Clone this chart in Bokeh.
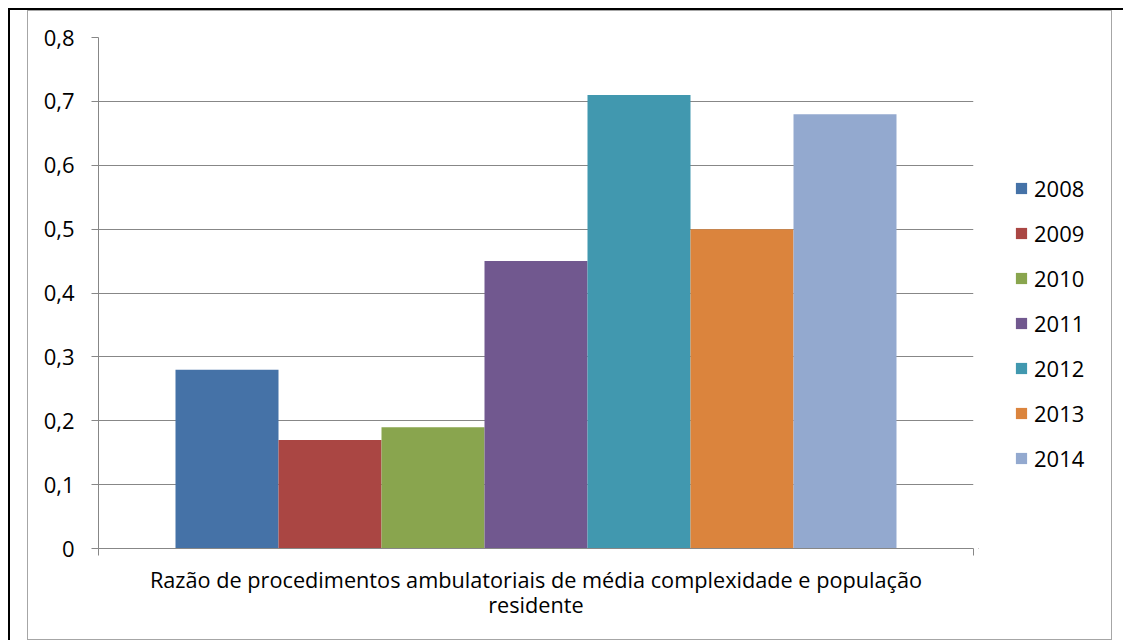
from bokeh.plotting import figure
from bokeh.models import (Range1d, FixedTicker, CustomJSTickFormatter, Legend, LegendItem,
                          ColumnDataSource)
from bokeh.layouts import column, row
from bokeh.embed import file_html
from bokeh.resources import INLINE

years = ["2008", "2009", "2010", "2011", "2012", "2013", "2014"]
values = [0.28, 0.17, 0.19, 0.45, 0.71, 0.50, 0.68]
colors = ["#4572A7", "#AA4643", "#89A54E", "#71588F", "#4198AF", "#DB843D", "#93A9CF"]
category_label = "Razão de procedimentos ambulatoriais de média complexidade e população\nresidente"
y_ticks = [0, 0.1, 0.2, 0.3, 0.4, 0.5, 0.6, 0.7, 0.8]

FONT = "Open Sans"
GRID = "#878787"
bar_w = 0.824 / len(years)
n = len(years)
xs = [0.5 + (i - (n - 1) / 2) * bar_w for i in range(n)]
src = ColumnDataSource(dict(x=xs, top=values, year=years, color=colors))

# ---- main chart ----
p = figure(width=950, height=628, x_range=Range1d(0, 1), y_range=Range1d(0, 0.8),
           output_backend="svg", toolbar_location=None,
           min_border_left=70, min_border_top=26, min_border_right=5, min_border_bottom=91)
p.outline_line_color = None
p.background_fill_color = "white"
p.border_fill_color = "white"

r = p.vbar(x="x", top="top", width=bar_w, bottom=0, source=src,
           fill_color="color", line_color=None)

p.yaxis.ticker = FixedTicker(ticks=y_ticks)
p.yaxis.formatter = CustomJSTickFormatter(code='return tick == 0 ? "0" : tick.toFixed(1).replace(".", ",");')
p.yaxis.major_label_text_font = FONT
p.yaxis.major_label_text_font_size = "22px"
p.yaxis.major_label_text_color = "black"
p.yaxis.major_tick_out = 7
p.yaxis.major_tick_in = 0
p.yaxis.minor_tick_line_color = None
p.yaxis.axis_line_color = GRID
p.yaxis.major_tick_line_color = GRID
p.yaxis.major_label_standoff = 17

p.xaxis.ticker = FixedTicker(ticks=[0, 1])
p.xaxis.major_label_text_font_size = "1px"
p.xaxis.major_label_text_color = None
p.xaxis.major_tick_out = 7
p.xaxis.major_tick_in = 0
p.xaxis.minor_tick_line_color = None
p.xaxis.axis_line_color = GRID
p.xaxis.major_tick_line_color = GRID
p.xaxis.axis_label = category_label
p.xaxis.axis_label_text_font = FONT
p.xaxis.axis_label_text_font_size = "21.7px"
p.xaxis.axis_label_text_font_style = "normal"
p.xaxis.axis_label_text_color = "black"
p.xaxis.axis_label_text_line_height = 0.88
p.xaxis.axis_label_standoff = 9

p.xgrid.grid_line_color = None
p.ygrid.ticker = FixedTicker(ticks=y_ticks)
p.ygrid.grid_line_color = GRID
p.ygrid.grid_line_width = 1

# ---- legend panel (same data, bars kept outside its visible range) ----
q = figure(width=133, height=628, x_range=Range1d(10, 11), y_range=Range1d(10, 11),
           output_backend="svg", toolbar_location=None,
           x_axis_location=None, y_axis_location=None,
           min_border_left=0, min_border_right=0, min_border_top=0, min_border_bottom=0)
q.outline_line_color = None
q.grid.visible = False
q.background_fill_color = "white"
q.border_fill_color = "white"
rq = q.vbar(x="x", top="top", width=bar_w, bottom=0, source=src,
            fill_color="color", line_color=None)

items = [LegendItem(label=years[i], renderers=[rq], index=i) for i in range(n)]
legend = Legend(items=items, location=(36, 75), padding=0, margin=0,
                border_line_color=None, background_fill_alpha=0,
                glyph_width=14, glyph_height=14, label_standoff=6,
                label_text_font=FONT, label_text_font_size="22px",
                label_text_color="black",
                label_height=30, spacing=15)
q.add_layout(legend, "center")

inner = row(p, q, margin=(0, 11, 0, 17), styles={"border": "1px solid #a6a6a6"})
layout = column(inner, margin=(8, 0, 0, 8),
                styles={"border-top": "2px solid black", "border-left": "2px solid black"})

open("out.html", "w").write(file_html(layout, INLINE))
